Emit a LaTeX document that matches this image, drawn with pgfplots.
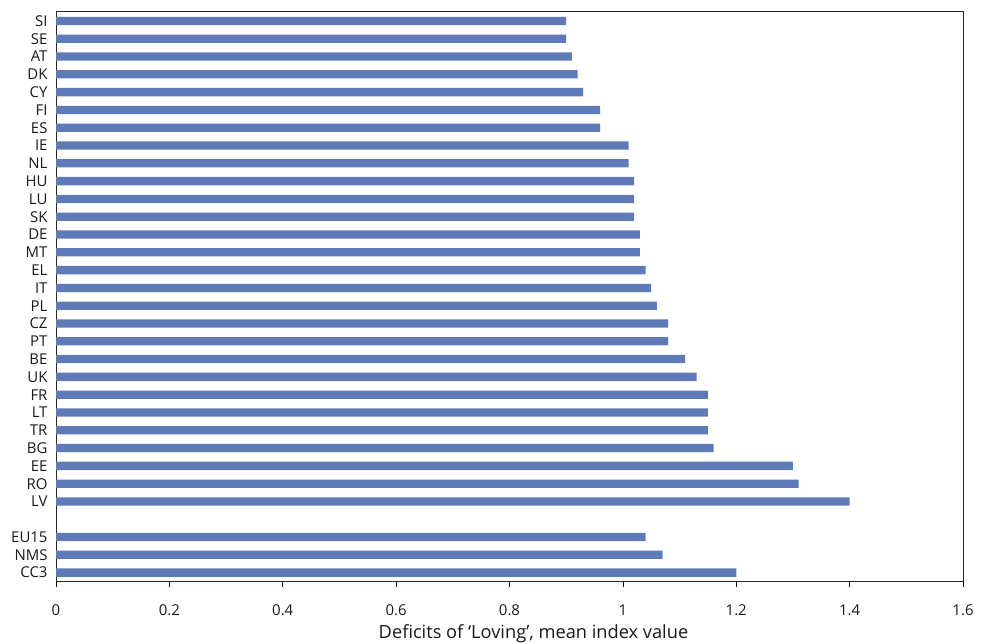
\documentclass[border=0pt]{standalone}
\usepackage{fontspec}
\setmainfont{Open Sans}
\usepackage{pgfplots}
\pgfplotsset{compat=1.18}
\definecolor{barblue}{RGB}{94,123,184}
\newcommand{\lblfont}{\fontsize{15}{16}\selectfont}
\newcommand{\xlblfont}{\fontsize{18.3}{19}\selectfont}
\begin{document}
\begin{tikzpicture}
\begin{axis}[
  scale only axis,
  width=907bp, height=570bp,
  xmin=0, xmax=1.6,
  ymin=-0.47, ymax=31.56,
  xtick={0,0.2,...,1.6},
  xticklabels={0,0.2,0.4,0.6,0.8,1,1.2,1.4,1.6},
  ytick={0,1,2,4,5,6,7,8,9,10,11,12,13,14,15,16,17,18,19,20,21,22,23,24,25,26,27,28,29,30,31},
  yticklabels={CC3,NMS,EU15,LV,RO,EE,BG,TR,LT,FR,UK,BE,PT,CZ,PL,IT,EL,MT,DE,SK,LU,HU,NL,IE,ES,FI,CY,DK,AT,SE,SI},
  y tick style={draw=none},
  x tick style={black, line width=0.6pt},
  xtick pos=bottom,
  tick align=outside,
  major tick length=6bp,
  axis line style={black!85, line width=0.8pt},
  tick label style={font=\lblfont, text=black!90},
  /pgf/number format/assume math mode=true,
  yticklabel style={xshift=1bp},
  xticklabel style={anchor=base, yshift=-28bp},
  xlabel={\xlblfont Deficits of ‘Loving’, mean index value},
  xlabel style={at={(axis description cs:0.5,0)}, anchor=base, yshift=-57bp, xshift=24bp, text=black!90},
]
\addplot[xbar, bar width=8.3bp, fill=barblue, draw=none] coordinates {
(1.20,0) (1.07,1) (1.04,2)
(1.40,4) (1.31,5) (1.30,6) (1.16,7) (1.15,8) (1.15,9) (1.15,10)
(1.13,11) (1.11,12) (1.08,13) (1.08,14) (1.06,15) (1.05,16) (1.04,17)
(1.03,18) (1.03,19) (1.02,20) (1.02,21) (1.02,22) (1.01,23) (1.01,24)
(0.96,25) (0.96,26) (0.93,27) (0.92,28) (0.91,29) (0.90,30) (0.90,31)
};
\end{axis}
\pgfresetboundingbox
\path[use as bounding box] ([xshift=-56bp,yshift=-62bp]current axis.south west) rectangle ([xshift=21bp,yshift=11bp]current axis.north east);
\end{tikzpicture}
\end{document}
